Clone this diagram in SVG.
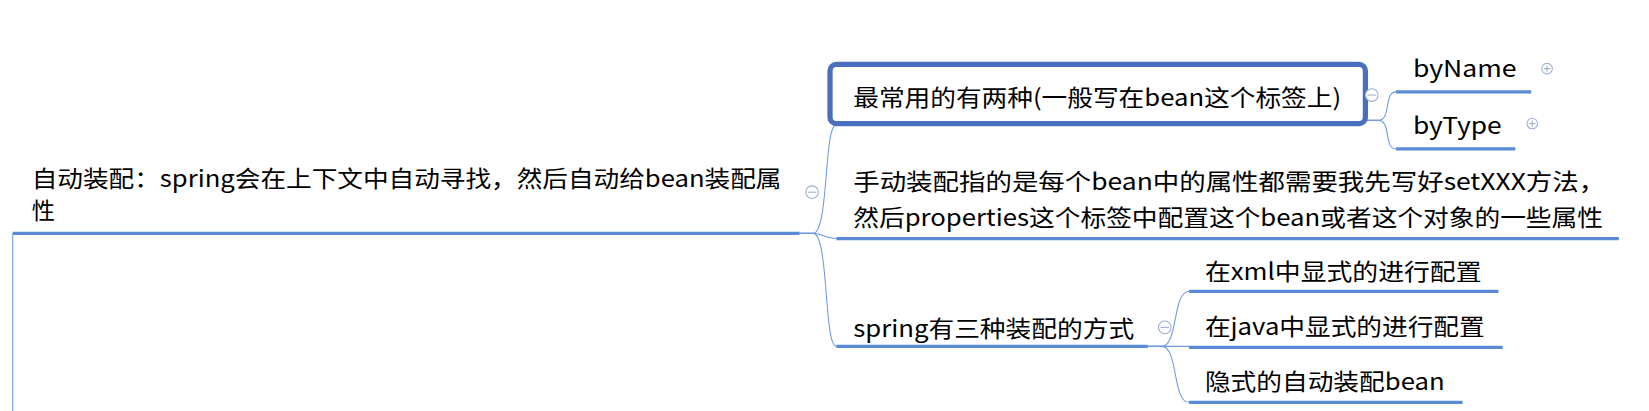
<svg xmlns="http://www.w3.org/2000/svg" width="1649" height="411" viewBox="0 0 1649 411">
<style>
text{font-family:"Noto Sans CJK SC","Liberation Sans",sans-serif;font-size:22px;fill:#000}
.u{stroke:#5b8bd6;stroke-width:3;fill:none}
.c{stroke:#6f9ae0;stroke-width:1;fill:none}
.t{stroke:#9aaed0;stroke-width:1;fill:#fff}
</style>
<rect width="1649" height="411" fill="#fff"/>
<g transform="scale(1.056)">
<g id="connectors">
<path class="c" d="M757,221 H770 C785,221 780,118 792,118"/>
<path class="c" d="M757,221 H770 C780,221 780,226 792,226"/>
<path class="c" d="M757,221 H770 C785,221 780,328 792,328"/>
<path class="c" d="M1293,114 H1305 C1318,114 1310,87 1322,87"/>
<path class="c" d="M1293,114 H1305 C1318,114 1310,141 1322,141"/>
<path class="c" d="M1087,328 H1100 C1116,328 1110,276 1126,276"/>
<path class="c" d="M1087,328 H1126"/>
<path class="c" d="M1087,328 H1100 C1116,328 1110,381 1126,381"/>
</g>
<g id="root">
<text x="30" y="177" textLength="710" lengthAdjust="spacingAndGlyphs">自动装配：spring会在上下文中自动寻找，然后自动给bean装配属</text>
<text x="30" y="207">性</text>
<line class="u" x1="12" y1="221" x2="757" y2="221"/>
<line class="c" x1="12" y1="221" x2="12" y2="400"/>
<circle class="t" cx="769" cy="182" r="6"/><line x1="765" y1="182" x2="773" y2="182" stroke="#9aaed0"/>
</g>
<g id="n1">
<line class="u" x1="788" y1="116" x2="1290" y2="116"/>
<rect x="786" y="61" width="507" height="56" rx="6" fill="none" stroke="#4a6fbf" stroke-width="5"/>
<text x="808" y="100" textLength="462" lengthAdjust="spacingAndGlyphs">最常用的有两种(一般写在bean这个标签上)</text>
<circle class="t" cx="1299" cy="90" r="6"/><line x1="1295" y1="90" x2="1303" y2="90" stroke="#9aaed0"/>
</g>
<g id="byName">
<text x="1338" y="73" textLength="98" lengthAdjust="spacingAndGlyphs">byName</text>
<line class="u" x1="1322" y1="87" x2="1450" y2="87"/>
<circle class="t" cx="1465" cy="65" r="5"/><path d="M1462,65h6M1465,62v6" stroke="#9aaed0"/>
</g>
<g id="byType">
<text x="1338" y="127" textLength="84" lengthAdjust="spacingAndGlyphs">byType</text>
<line class="u" x1="1322" y1="141" x2="1435" y2="141"/>
<circle class="t" cx="1451" cy="117" r="5"/><path d="M1448,117h6M1451,114v6" stroke="#9aaed0"/>
</g>
<g id="n2">
<text x="808" y="180" textLength="712" lengthAdjust="spacingAndGlyphs">手动装配指的是每个bean中的属性都需要我先写好setXXX方法，</text>
<text x="808" y="214" textLength="710" lengthAdjust="spacingAndGlyphs">然后properties这个标签中配置这个bean或者这个对象的一些属性</text>
<line class="u" x1="792" y1="226" x2="1533" y2="226"/>
</g>
<g id="n3">
<text x="808" y="319" textLength="266" lengthAdjust="spacingAndGlyphs">spring有三种装配的方式</text>
<line class="u" x1="792" y1="328" x2="1087" y2="328"/>
<circle class="t" cx="1103" cy="310" r="6"/><line x1="1099" y1="310" x2="1107" y2="310" stroke="#9aaed0"/>
</g>
<g id="g1">
<text x="1141" y="265" textLength="262" lengthAdjust="spacingAndGlyphs">在xml中显式的进行配置</text>
<line class="u" x1="1126" y1="276" x2="1419" y2="276"/>
</g>
<g id="g2">
<text x="1141" y="317" textLength="265" lengthAdjust="spacingAndGlyphs">在java中显式的进行配置</text>
<line class="u" x1="1126" y1="329" x2="1423" y2="329"/>
</g>
<g id="g3">
<text x="1141" y="369" textLength="227" lengthAdjust="spacingAndGlyphs">隐式的自动装配bean</text>
<line class="u" x1="1126" y1="381" x2="1385" y2="381"/>
</g>
</g>
</svg>
